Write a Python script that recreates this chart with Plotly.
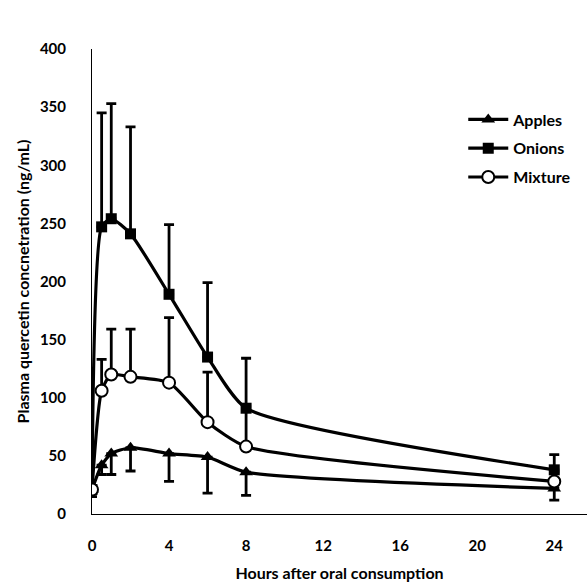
import plotly.graph_objects as go

hours = [0, 0.5, 1, 2, 4, 6, 8, 24]

apples = [21, 42, 52, 57, 52, 49, 36, 22]
apples_err_minus = [6, 8, 18, 20, 24, 31, 20, 10]

onions = [21, 247, 254, 241, 189, 135, 91, 38]
onions_err_plus = [3, 98, 99, 92, 60, 64, 43, 13]

mixture = [21, 106, 120, 118, 113, 79, 58, 28]
mixture_err_plus = [3, 27, 39, 41, 56, 43, 35, 8]

x_ticks = [0, 4, 8, 12, 16, 20, 24]
y_ticks = [0, 50, 100, 150, 200, 250, 300, 350, 400]

FONT = "Lato, 'Open Sans', sans-serif"

fig = go.Figure()

common_line = dict(color="black", width=3.2, shape="spline", smoothing=0.6)

fig.add_trace(go.Scatter(
    x=hours, y=apples, name="Apples", mode="lines+markers", legendgroup="a",
    line=common_line,
    marker=dict(symbol="triangle-up", size=12, color="black"),
    error_y=dict(type="data", array=[0]*len(hours), arrayminus=apples_err_minus,
                 symmetric=False, color="black", thickness=2.8, width=5),
))
fig.add_trace(go.Scatter(
    x=hours, y=onions, name="Onions", mode="lines+markers", legendgroup="o",
    line=common_line,
    marker=dict(symbol="square", size=11, color="black"),
    error_y=dict(type="data", array=onions_err_plus, arrayminus=[0]*len(hours),
                 symmetric=False, color="black", thickness=2.8, width=5),
))
fig.add_trace(go.Scatter(
    x=hours, y=mixture, name="Mixture", mode="lines+markers", legendgroup="m",
    line=common_line,
    marker=dict(symbol="circle", size=12, color="white",
                line=dict(color="black", width=2)),
    error_y=dict(type="data", array=mixture_err_plus, arrayminus=[0]*len(hours),
                 symmetric=False, color="black", thickness=2.8, width=5),
))

fig.update_layout(
    width=587, height=582,
    margin=dict(l=92, r=0, t=49, b=68),
    paper_bgcolor="white", plot_bgcolor="white",
    font=dict(family=FONT, size=16, color="black", weight="bold"),
    showlegend=True,
    legend=dict(x=0.75, y=0.885, xanchor="left", yanchor="top",
                font=dict(family=FONT, size=16, color="black", weight="bold"),
                bgcolor="rgba(0,0,0,0)", itemwidth=40, tracegroupgap=5),
)
fig.update_xaxes(
    range=[0, 25.7], tickvals=x_ticks, ticktext=[str(v) for v in x_ticks],
    showgrid=False, zeroline=False, showline=True, linecolor="black", linewidth=1,
    ticks="", ticklabelstandoff=18,
    tickfont=dict(family=FONT, size=15, weight="bold"),
    title=dict(text="Hours after oral consumption", standoff=16,
               font=dict(family=FONT, size=16, weight="bold")),
)
fig.update_yaxes(
    range=[0, 400], tickvals=y_ticks, ticktext=[str(v) for v in y_ticks],
    showgrid=False, zeroline=False, showline=True, linecolor="black", linewidth=1,
    ticks="", ticklabelstandoff=22,
    tickfont=dict(family=FONT, size=15, weight="bold"),
    title=dict(text="Plasma quercetin concnetration (ng/mL)", standoff=6,
               font=dict(family=FONT, size=16, weight="bold")),
)

fig.write_html("out.html")
